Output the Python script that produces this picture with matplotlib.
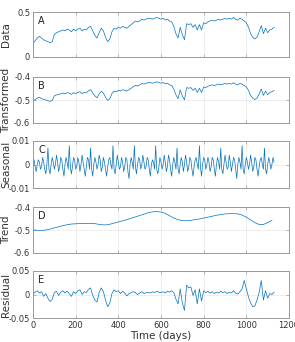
# Descomposicion de la serie: datos, transformada, estacional, tendencia y residuo
import numpy as np
import matplotlib.pyplot as plt

# datos originales (cada 10 dias)
data = [0.15, 0.18, 0.21, 0.23, 0.21, 0.19, 0.18, 0.17, 0.16, 0.17,
        0.25, 0.27, 0.28, 0.29, 0.30, 0.29, 0.31, 0.30, 0.28, 0.31,
        0.29, 0.31, 0.32, 0.29, 0.31, 0.30, 0.33, 0.34, 0.29, 0.24,
        0.21, 0.27, 0.32, 0.29, 0.22, 0.17, 0.20, 0.28, 0.32, 0.31,
        0.33, 0.32, 0.34, 0.33, 0.32, 0.34, 0.36, 0.38, 0.40, 0.39,
        0.40, 0.42, 0.41, 0.42, 0.43, 0.43, 0.42, 0.43, 0.44, 0.43,
        0.42, 0.43, 0.41, 0.42, 0.40, 0.39, 0.34, 0.26, 0.21, 0.33,
        0.25, 0.19, 0.37, 0.36, 0.37, 0.33, 0.36, 0.30, 0.36, 0.30,
        0.38, 0.37, 0.39, 0.40, 0.41, 0.40, 0.41, 0.42, 0.41, 0.42,
        0.43, 0.42, 0.43, 0.42, 0.44, 0.42, 0.41, 0.43, 0.42, 0.40,
        0.38, 0.33, 0.26, 0.22, 0.20, 0.22, 0.28, 0.35, 0.26, 0.32,
        0.27, 0.30, 0.31, 0.33]

# serie transformada (cada 10 dias)
transformed = [-0.505, -0.498, -0.492, -0.488, -0.494, -0.498, -0.500, -0.503, -0.506, -0.502,
               -0.482, -0.478, -0.476, -0.473, -0.470, -0.473, -0.468, -0.470, -0.476, -0.468,
               -0.472, -0.467, -0.464, -0.472, -0.467, -0.469, -0.460, -0.455, -0.470, -0.482,
               -0.490, -0.474, -0.462, -0.470, -0.488, -0.502, -0.494, -0.472, -0.461, -0.464,
               -0.458, -0.461, -0.455, -0.458, -0.461, -0.455, -0.449, -0.442, -0.436, -0.439,
               -0.435, -0.428, -0.431, -0.428, -0.424, -0.424, -0.427, -0.424, -0.421, -0.424,
               -0.427, -0.424, -0.430, -0.427, -0.434, -0.437, -0.452, -0.478, -0.494, -0.456,
               -0.482, -0.500, -0.446, -0.449, -0.446, -0.458, -0.449, -0.467, -0.449, -0.467,
               -0.443, -0.446, -0.440, -0.437, -0.434, -0.437, -0.434, -0.431, -0.434, -0.431,
               -0.428, -0.431, -0.428, -0.431, -0.425, -0.431, -0.434, -0.428, -0.431, -0.437,
               -0.443, -0.458, -0.480, -0.492, -0.498, -0.492, -0.474, -0.452, -0.480, -0.461,
               -0.477, -0.467, -0.464, -0.458]

# componente estacional (cada 5 dias, en milesimas)
seasonal = [0, 2, -1, -3, 0, 2, 1, -2, -1, 3, 1, -2, -4, 0,
            7, -2, -4, 0, 3, 1, -2, 0, 4, 1, -3, -1, 3, 2, -2, -5, 0, 3, 1, -2,
            8, -1, -4, -1, 3, 2, -2, -1, 3, 1, -3, 0, 4, 1, -2, -5, -1, 3, 2, -2,
            7, -2, -5, 0, 3, 1, -2, 0, 4, 2, -3, -1, 3, 1, -2, -5, -1, 2, 3, 0, -2,
            8, -2, -4, 0, 4, 1, -2, -1, 3, 1, -3, -1, 3, 2, -3, -6, 0, 3, 1, -2,
            8, -1, -4, 0, 3, 2, -2, 0, 4, 1, -2, -1, 3, 2, -2, -5, 0, 2, 1, -2,
            8, -2, -4, -1, 3, 1, -2, 0, 4, 1, -3, -1, 4, 2, -2, -5, 0, 3, 1, -2,
            7, -2, -4, 0, 3, 1, -3, 0, 4, 1, -3, -1, 3, 2, -2, -5, -1, 2, 3, 0, -2,
            8, -1, -5, 0, 3, 2, -2, 0, 3, 1, -3, -1, 3, 2, -2, -5, 0, 3, 1, -2,
            7, -2, -4, 0, 4, 1, -2, -1, 4, 1, -3, 0, 3, 2, -2, -6, 0, 3, 1, -2,
            8, -2, -4, 0, 3, 1, -2, 0, 4, 1, -3, -1, 3, 2, -2, -5, -1, 2, 3, 0, -2,
            7, -2, -4, 0, 3, 1, -2, 0, 3, 1]

# tendencia (cada 20 dias)
trend = [-0.500, -0.501, -0.502, -0.500, -0.496, -0.491, -0.486, -0.481, -0.477, -0.474,
         -0.473, -0.472, -0.472, -0.471, -0.471, -0.474, -0.477, -0.478, -0.475, -0.470,
         -0.465, -0.460, -0.455, -0.449, -0.443, -0.437, -0.431, -0.425, -0.421, -0.420,
         -0.422, -0.428, -0.438, -0.448, -0.455, -0.459, -0.460, -0.458, -0.455, -0.452,
         -0.448, -0.444, -0.440, -0.436, -0.433, -0.430, -0.429, -0.429, -0.430, -0.435,
         -0.444, -0.456, -0.468, -0.476, -0.476, -0.468, -0.458]

# residuo (cada 10 dias)
residual = [0.000, 0.005, 0.008, 0.003, 0.006, -0.004, 0.002, -0.008, -0.015, -0.010,
            0.004, 0.007, -0.002, 0.005, 0.008, 0.003, 0.007, 0.002, -0.004, 0.006,
            0.002, 0.008, 0.010, 0.000, 0.006, 0.004, 0.011, 0.014, -0.002, -0.012,
            -0.016, 0.004, 0.014, 0.006, -0.012, -0.026, -0.018, 0.002, 0.010, 0.006,
            0.008, 0.002, 0.007, 0.003, -0.003, 0.002, 0.004, 0.006, 0.004, 0.000,
            0.003, 0.006, 0.002, 0.004, 0.005, 0.003, 0.006, 0.004, 0.007, 0.005,
            0.004, 0.006, 0.003, 0.007, 0.005, 0.008, 0.004, -0.010, -0.020, 0.012,
            -0.018, -0.034, 0.020, 0.014, 0.016, -0.002, 0.010, -0.020, 0.012, -0.014,
            0.008, 0.004, 0.007, 0.003, 0.006, 0.002, 0.005, 0.003, 0.007, 0.004,
            0.006, 0.002, 0.005, 0.003, 0.008, 0.003, 0.001, 0.006, 0.012, 0.030,
            0.012, -0.005, -0.018, -0.026, -0.024, -0.012, 0.004, 0.030, -0.012, 0.008,
            -0.008, 0.002, 0.000, 0.005]

days10 = np.arange(len(data)) * 10
days5 = np.arange(len(seasonal)) * 5
days20 = np.arange(len(trend)) * 20

panels = [
    ('A', 'Data', days10, np.array(data), (0, 0.5), [0, 0.5], ['0', '0.5']),
    ('B', 'Transformed', days10, np.array(transformed), (-0.6, -0.4), [-0.6, -0.5, -0.4], ['-0.6', '-0.5', '-0.4']),
    ('C', 'Seasonal', days5, np.array(seasonal) / 1000, (-0.01, 0.01), [-0.01, 0, 0.01], ['-0.01', '0', '0.01']),
    ('D', 'Trend', days20, np.array(trend), (-0.6, -0.4), [-0.6, -0.5, -0.4], ['-0.6', '-0.5', '-0.4']),
    ('E', 'Residual', days10, np.array(residual), (-0.05, 0.05), [-0.05, 0, 0.05], ['-0.05', '0', '0.05']),
]

# posiciones en pixeles (arriba, abajo) de cada panel
rows = [(12, 57), (77, 123), (141, 188), (207, 253), (271, 318)]
W, H = 295, 342
line_color = '#0072BD'
box_color = '#9a9a9a'

fig = plt.figure(figsize=(W / 100, H / 100), dpi=100)

for i, (letter, label, x, y, ylim, yt, ytl) in enumerate(panels):
    top, bot = rows[i]
    ax = fig.add_axes([33 / W, 1 - bot / H, 256 / W, (bot - top) / H])
    ax.plot(x, y, color=line_color, linewidth=0.5)
    ax.set_xlim(0, 1200)
    ax.set_ylim(*ylim)
    ax.set_yticks(yt)
    ax.set_yticklabels(ytl)
    ax.set_xticks(np.arange(0, 1201, 200))
    ax.grid(True, color='#e8e8e8', linewidth=0.5)
    ax.set_axisbelow(True)
    for s in ax.spines.values():
        s.set_color(box_color)
        s.set_linewidth(0.7)
    ax.tick_params(direction='in', length=2, width=0.5, color=box_color,
                   labelsize=6, labelcolor='#333333', pad=2)
    ax.tick_params(axis='y', right=True)
    ax.tick_params(axis='x', top=True)
    if i < 4:
        ax.set_xticklabels([])
    ax.set_ylabel(label, fontsize=7.5, color='#333333')
    ax.yaxis.set_label_coords(-0.085, 0.5)
    ax.text(0.02, 0.8, letter, transform=ax.transAxes, fontsize=7,
            va='center', ha='left', color='#222222')

ax.set_xticklabels([str(v) for v in range(0, 1201, 200)])
ax.set_xlabel('Time (days)', fontsize=7.5, color='#333333', labelpad=1)

fig.savefig('out.png', dpi=100)
